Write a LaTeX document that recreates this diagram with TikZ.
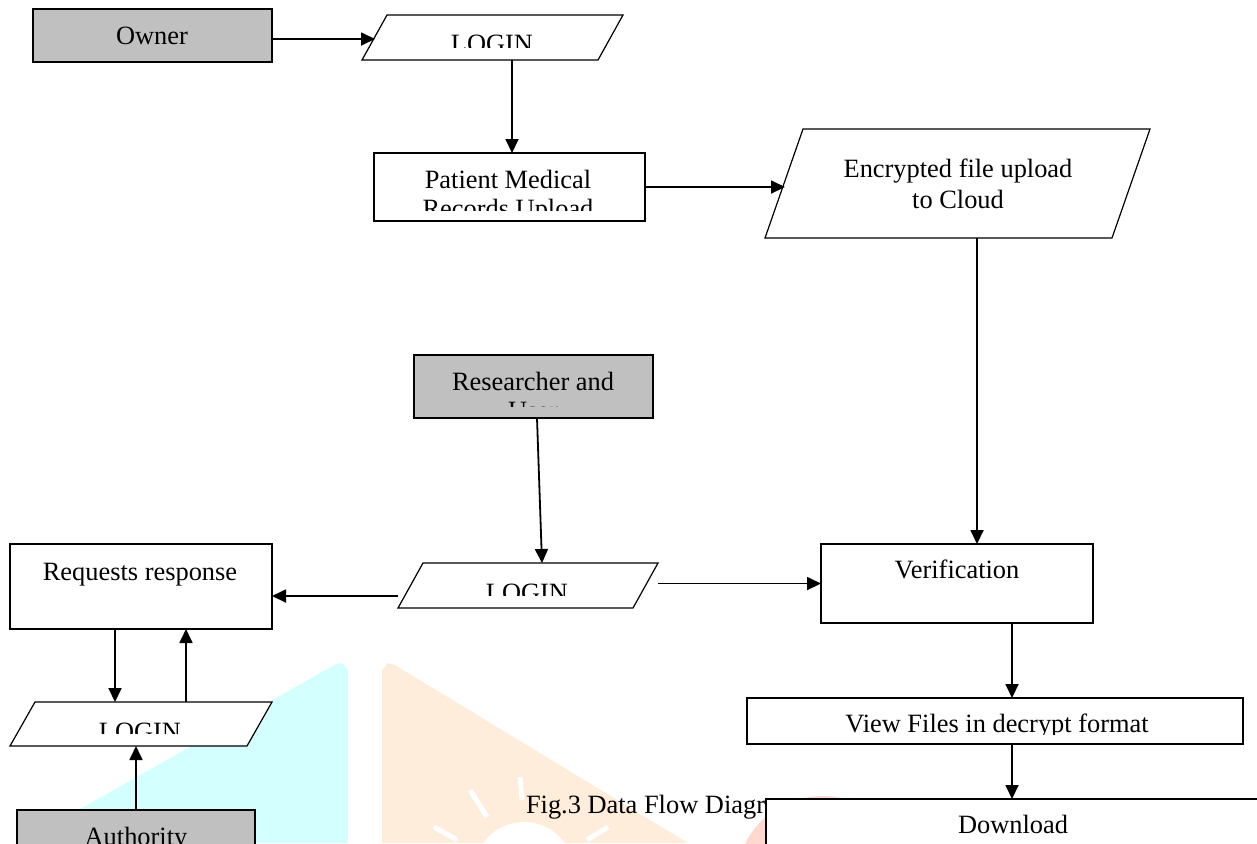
\documentclass[tikz,border=0pt]{standalone}
\usepackage{fontspec}
\setmainfont{Liberation Serif}
\usetikzlibrary{arrows.meta,calc}
\definecolor{boxgray}{RGB}{192,192,192}
\definecolor{wmcyan}{RGB}{212,255,255}
\definecolor{wmpeach}{RGB}{255,237,220}
\definecolor{wmpink}{RGB}{255,216,208}
\tikzset{
  box/.style={draw, line width=0.6pt, fill=white, rectangle, inner sep=0pt, outer sep=0pt},
  ent/.style={box, fill=boxgray},
  iobox/.style={rectangle, inner sep=0pt, outer sep=0pt},
  ioline/.style={draw, line width=0.6pt, fill=white, line join=miter},
  arr/.style={line width=0.9pt, -{Triangle[length=7pt,width=6.5pt]}},
  lbl/.style={anchor=base, inner sep=0pt, outer sep=0pt, font=\fontsize{13.2}{15}\selectfont},
  ray/.style={white, line width=2.5pt},
}
\newcommand{\drawpara}[2]{\path[ioline] (#1.south west) -- ([xshift=#2]#1.north west) -- (#1.north east) -- ([xshift=-#2]#1.south east) -- cycle;}
\begin{document}
\begin{tikzpicture}[x=0.5pt,y=-0.5pt]
\useasboundingbox (0,0) rectangle (1257,843);
\clip (0,0) rectangle (1257,843);

% faint watermark
\fill[wmcyan] (20,843) -- (336,664) -- (342,663) -- (348,670) -- (348,843) -- cycle;
\fill[wmpeach] (382,843) -- (382,670) -- (388,663) -- (395,665) -- (688,843) -- cycle;
\fill[white] (524,872) circle (50);
\draw[ray] (470,790) -- (487,817);
\draw[ray] (520,777) -- (522,800);
\draw[ray] (434,827) -- (457,840);
\draw[ray] (608,827) -- (587,840);
\fill[wmpink] (822,882) circle (86);

% caption (partly hidden by the Download box)
\node[lbl, anchor=base west] (cap) at (526,813) {Fig.3 Data Flow Diagram};

% shapes
\node[ent, minimum width=119.5pt, minimum height=26.5pt] (owner) at (152.5,35.5) {};
\node[iobox, minimum width=130.5pt, minimum height=22.5pt] (login1) at (492.5,37.5) {};
\drawpara{login1}{12.5pt}
\node[box, minimum width=135.5pt, minimum height=34pt] (pmr) at (509.5,187) {};
\node[iobox, minimum width=192.5pt, minimum height=54.5pt] (enc) at (957.5,183.5) {};
\drawpara{enc}{19pt}
\node[ent, minimum width=119.5pt, minimum height=31.5pt] (res) at (533.5,386.5) {};
\node[iobox, minimum width=130pt, minimum height=22.5pt] (login2) at (528,585.5) {};
\drawpara{login2}{12.5pt}
\node[box, minimum width=131pt, minimum height=42.5pt] (req) at (141,586.5) {};
\node[box, minimum width=136pt, minimum height=39.5pt] (ver) at (957,583.5) {};
\node[iobox, minimum width=131pt, minimum height=22pt] (login3) at (141,724) {};
\drawpara{login3}{12.5pt}
\node[box, minimum width=248pt, minimum height=23pt] (view) at (995,721) {};
\node[box, minimum width=267pt, minimum height=45.5pt] (dl) at (1033,844.5) {};
\node[ent, minimum width=119pt, minimum height=33pt] (auth) at (136,843) {};

% connectors
\coordinate (c1) at ([yshift=-1.75pt]owner.east);
\coordinate (l1in) at ([xshift=6.5pt]login1.west);
\draw[arr] (c1) -- (c1 -| l1in);
\draw[arr] ([xshift=1.25pt]pmr.north |- login1.south) -- ([xshift=1.25pt]pmr.north);
\coordinate (encin) at ([xshift=10pt]enc.west);
\draw[arr] (pmr.east) -- (pmr.east -| encin);
\coordinate (c4) at ([xshift=10pt]ver.north);
\draw[arr] (c4 |- enc.south) -- (c4);
\draw[arr] ([xshift=1.75pt]res.south) -- ([xshift=7pt]login2.north);
\coordinate (c6) at ([yshift=-4.75pt]req.east);
\draw[arr] (c6 -| login2.south west) -- (c6);
\draw[arr] (ver.west -| login2.north east) -- (ver.west);
\coordinate (c8) at ([xshift=27.5pt]ver.south);
\draw[arr] (c8) -- (c8 |- view.north);
\draw[arr] (c8 |- view.south) -- (c8 |- dl.north);
\coordinate (c9) at ([xshift=-13pt]req.south);
\draw[arr] (c9) -- (c9 |- login3.north);
\coordinate (c10) at ([xshift=22.5pt]req.south);
\draw[arr] (c10 |- login3.north) -- (c10);
\draw[arr] (auth.north) -- (auth.north |- login3.south);

% labels
\node[lbl] (towner) at (152,44) {Owner};
\begin{scope}
  \clip (362,15) rectangle (623,47);
  \node[lbl] (tlogin1) at (492,52.5) {LOGIN};
\end{scope}
\node[lbl] (tpmr1) at (508,188) {Patient Medical};
\begin{scope}
  \clip (374,153) rectangle (645,210);
  \node[lbl] (tpmr2) at (508,217) {Records Upload};
\end{scope}
\node[lbl] (tenc1) at (958,177) {Encrypted file upload};
\node[lbl] (tenc2) at (958,208) {to Cloud};
\node[lbl] (tres1) at (533,390.5) {Researcher and};
\begin{scope}
  \clip (414,355) rectangle (653,406);
  \node[lbl] (tres2) at (533,419.5) {User};
\end{scope}
\begin{scope}
  \clip (398,563) rectangle (658,595);
  \node[lbl] (tlogin2) at (527,601.5) {LOGIN};
\end{scope}
\node[lbl] (treq) at (140,580) {Requests response};
\node[lbl] (tver) at (957,578) {Verification};
\begin{scope}
  \clip (10,702) rectangle (272,733);
  \node[lbl] (tlogin3) at (140,740.5) {LOGIN};
\end{scope}
\begin{scope}
  \clip (747,698) rectangle (1243,734);
  \node[lbl] (tview) at (997,732.5) {View Files in decrypt format};
\end{scope}
\node[lbl] (tdl) at (1013,833) {Download};
\node[lbl] (tauth) at (136,845.5) {Authority};
\end{tikzpicture}
\end{document}
